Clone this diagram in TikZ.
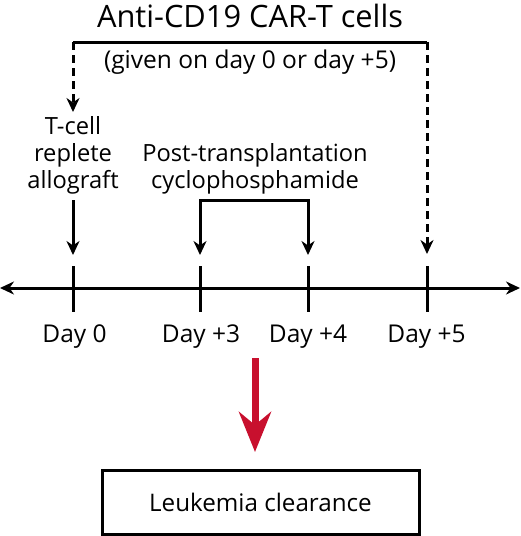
\documentclass[tikz,border=0pt]{standalone}
\usepackage{fontspec}
\setmainfont{Open Sans}
\usetikzlibrary{arrows.meta}
\definecolor{cred}{HTML}{C8102E}
\tikzset{
  lbl/.style={font=\fontsize{23.7}{27}\selectfont, align=center, inner sep=0pt},
  daylbl/.style={font=\fontsize{24.5}{27}\selectfont, inner sep=0pt},
  big/.style={font=\fontsize{30.8}{34}\selectfont, inner sep=0pt},
  ln/.style={line width=3pt},
  tip/.style={line width=3pt},
  conn/.style={line width=3pt, -{Stealth[length=14pt,width=13pt,inset=4.5pt]}},
  dconn/.style={conn, dash pattern=on 8pt off 5pt},
  redarrow/.style={cred, line width=7pt, -{Stealth[length=40pt,width=32pt,inset=13pt]}},
  box/.style={draw, line width=3pt, minimum width=317pt, minimum height=64pt, inner sep=0pt, font=\fontsize{24.2}{27}\selectfont}
}
\begin{document}
\begin{tikzpicture}[x=1pt,y=-1pt]
\useasboundingbox (0,0) rectangle (520,536);
% texts
\node[big, anchor=base] (title) at (250,27) {Anti-CD19 CAR-T cells};
\node[daylbl, anchor=base] (given) at (250,68) {(given on day 0 or day +5)};
\node[lbl, anchor=base] (allo) at (73,188) {T-cell\\replete\\allograft};
\node[lbl, anchor=base] (ptcy) at (255,188) {Post-transplantation\\cyclophosphamide};
% timeline
\coordinate (axL) at (0,288);
\coordinate (axR) at (520,288);
\draw[ln, {Stealth[length=14pt,width=13pt,inset=4.5pt]}-{Stealth[length=14pt,width=13pt,inset=4.5pt]}] (axL) -- (axR);
\foreach \n/\x in {d0/73, d3/200, d4/308, d5/427}{
  \coordinate (\n top) at (\x,266);
  \coordinate (\n bot) at (\x,312);
  \draw[ln] (\n top) -- (\n bot);
}
\node[daylbl, anchor=base] (l0) at (74.5,342) {Day 0};
\node[daylbl, anchor=base] (l3) at (201,342) {Day +3};
\node[daylbl, anchor=base] (l4) at (308,342) {Day +4};
\node[daylbl, anchor=base] (l5) at (426.5,342) {Day +5};
% CAR-T bracket
\coordinate (cL) at (73,42);
\coordinate (cR) at (427,42);
\coordinate (cLend) at (73,112);
\coordinate (cRend) at (427,254);
\draw[ln] (cL) -- (cR);
\draw[dconn] (cL) -- (cLend);
\draw[dconn] (cR) -- (cRend);
% allograft arrow
\coordinate (astart) at (73,200);
\coordinate (aend) at (73,255);
\draw[conn] (astart) -- (aend);
% PTCy bracket
\coordinate (pL) at (200,200);
\coordinate (pR) at (308,200);
\coordinate (pLend) at (200,255);
\coordinate (pRend) at (308,255);
\draw[ln, line cap=rect] (pL) -- (pR);
\draw[conn] (pL) -- (pLend);
\draw[conn] (pR) -- (pRend);
% outcome
\node[box] (out) at (260.5,502) {Leukemia clearance};
\coordinate (rtop) at (255,358);
\draw[redarrow] (rtop) -- (255,452);
\end{tikzpicture}
\end{document}
